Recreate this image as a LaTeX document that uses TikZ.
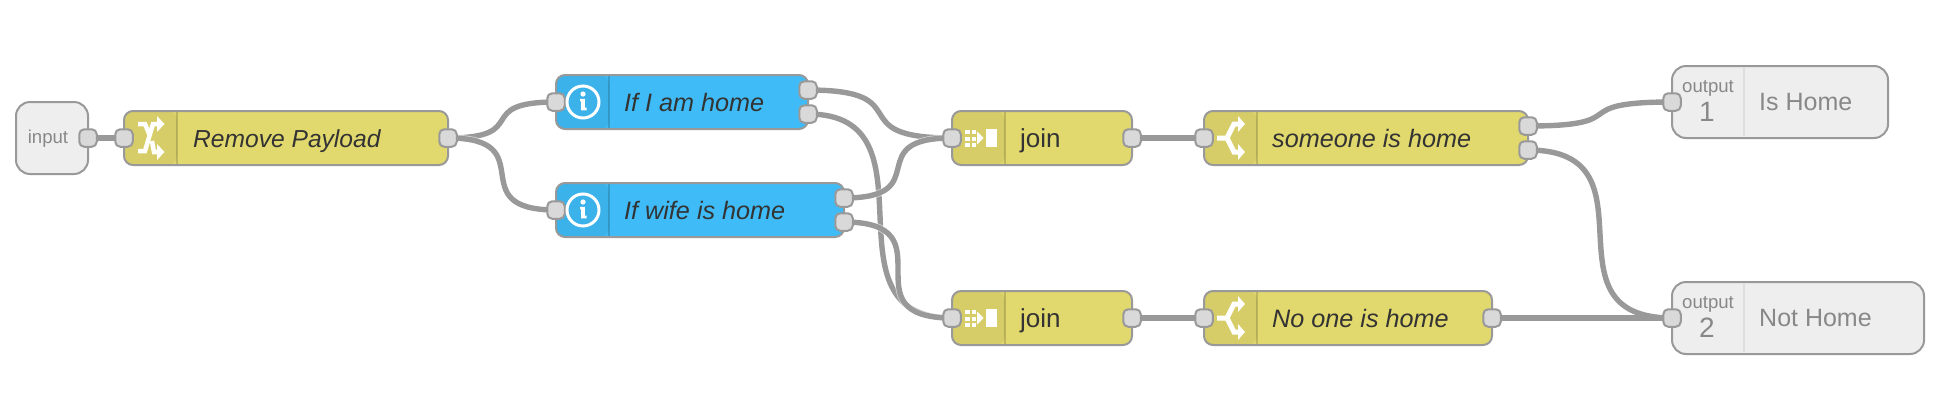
\documentclass[tikz,border=0pt]{standalone}
\usepackage{fontspec}
\setmainfont{Liberation Sans}
\definecolor{wirec}{HTML}{999999}
\definecolor{yellowc}{HTML}{E2D96E}
\definecolor{bluec}{HTML}{3FBCF7}
\definecolor{portc}{HTML}{D9D9D9}
\definecolor{ioc}{HTML}{EEEEEE}
\definecolor{greytext}{HTML}{888888}
\definecolor{inkc}{HTML}{333333}
\pgfdeclarelayer{wirelayer}
\pgfsetlayers{wirelayer,main}
\tikzset{
  flowbody/.style={draw=wirec,line width=2pt,rounded corners=9pt,minimum height=54pt,inner sep=0pt,
    path picture={
      \fill[black,opacity=.05] (path picture bounding box.south west) rectangle ([xshift=53pt]path picture bounding box.north west);
      \draw[black,opacity=.16,line width=1.5pt] ([xshift=53pt]path picture bounding box.south west) -- ([xshift=53pt]path picture bounding box.north west);
    }},
  yellowbody/.style={flowbody,fill=yellowc},
  bluebody/.style={flowbody,fill=bluec},
  iobody/.style={draw=wirec,line width=2pt,rounded corners=14pt,fill=ioc,inner sep=0pt,minimum height=72pt},
  port/.style={draw=wirec,line width=2pt,fill=portc,rounded corners=5pt,minimum size=17.5pt,inner sep=0pt},
  wire/.style={draw=wirec,line width=5.4pt,
     preaction={draw=white,opacity=.55,line width=7pt}},
  nodelabel/.style={anchor=base west,inner sep=0pt,text=inkc,font=\fontsize{25.2}{30}\selectfont\itshape},
  plainlabel/.style={anchor=base west,inner sep=0pt,text=inkc,font=\fontsize{26}{30}\selectfont},
  iolabel/.style={anchor=base west,inner sep=0pt,text=greytext,font=\fontsize{25}{30}\selectfont},
  smalllabel/.style={anchor=base,inner sep=0pt,text=greytext,font=\fontsize{18.6}{22}\selectfont},
  numlabel/.style={anchor=base,inner sep=0pt,text=greytext,font=\fontsize{28}{32}\selectfont},
  iconline/.style={draw=white,line width=5pt,line join=miter},
  iconfill/.style={fill=white},
}
\newcommand{\switchicon}[1]{%
  \begin{scope}[shift={(0,#1)}]
    \draw[iconline] (1217,0) -- (1227,0) -- (1234,-14) -- (1240,-14);
    \draw[iconline] (1227,0) -- (1234,14) -- (1240,14);
    \fill[iconfill] (1238,-22) -- (1245,-14) -- (1238,-6) -- cycle;
    \fill[iconfill] (1238,6) -- (1245,14) -- (1238,22) -- cycle;
  \end{scope}}
\newcommand{\joinicon}[1]{%
  \begin{scope}[shift={(0,#1)}]
    \foreach \dx in {965,971.5}\foreach \dy in {-8.5,-1.5,5}
      \fill[iconfill] (\dx,\dy) rectangle +(4.6,4.2);
    \fill[iconfill] (977,-6.5) -- (983.5,0) -- (977,6.5) -- cycle;
    \fill[iconfill] (986,-9) rectangle (997,9);
  \end{scope}}
\newcommand{\infoicon}[1]{%
  \begin{scope}[shift={(583,#1)}]
    \draw[white,line width=3pt] (0,0) circle (16);
    \fill[white] (0,-8) circle (2.6);
    \fill[white] (-3,-3.2) -- (1.8,-3.2) -- (1.8,5.6) -- (3.6,5.6) -- (3.6,8.4) -- (-2,8.4) -- (-2,-.6) -- (-3,-.6) -- cycle;
  \end{scope}}
\begin{document}
\begin{tikzpicture}[x=1pt,y=-1pt]
\useasboundingbox (0,0) rectangle (1948,410);

% bodies
\node[iobody,minimum width=72pt] (inbody) at (52,138) {};
\node[yellowbody,minimum width=324pt] (rp) at (286,138) {};
\node[bluebody,minimum width=252pt] (iam) at (682,102) {};
\node[bluebody,minimum width=288pt] (wife) at (700,210) {};
\node[yellowbody,minimum width=180pt] (joina) at (1042,138) {};
\node[yellowbody,minimum width=180pt] (joinb) at (1042,318) {};
\node[yellowbody,minimum width=324pt] (some) at (1366,138) {};
\node[yellowbody,minimum width=288pt] (none) at (1348,318) {};
\node[iobody,minimum width=216pt] (outa) at (1780,102) {};
\node[iobody,minimum width=252pt] (outb) at (1798,318) {};

% output dividers
\coordinate (oat) at (1744,68); \coordinate (oab) at (1744,136);
\coordinate (obt) at (1744,284); \coordinate (obb) at (1744,352);
\draw[black!13,line width=1.5pt] (oat) -- (oab);
\draw[black!13,line width=1.5pt] (obt) -- (obb);

% ports
\node[port] (pin) at (88,138) {};
\node[port] (rpi) at (124,138) {};
\node[port] (rpo) at (448,138) {};
\node[port] (iami) at (556,102) {};
\node[port] (iamoa) at (808,90) {};
\node[port] (iamob) at (808,114) {};
\node[port] (wifei) at (556,210) {};
\node[port] (wifeoa) at (844,198) {};
\node[port] (wifeob) at (844,222) {};
\node[port] (jai) at (952,138) {};
\node[port] (jao) at (1132,138) {};
\node[port] (jbi) at (952,318) {};
\node[port] (jbo) at (1132,318) {};
\node[port] (somei) at (1204,138) {};
\node[port] (someoa) at (1528,126) {};
\node[port] (someob) at (1528,150) {};
\node[port] (nonei) at (1204,318) {};
\node[port] (noneo) at (1492,318) {};
\node[port] (oai) at (1672,102) {};
\node[port] (obi) at (1672,318) {};

% wires
\begin{pgfonlayer}{wirelayer}
\fill[white] (0,0) rectangle (1948,410);
\draw[wire] (pin.center) -- (rpi.center);
\draw[wire] (rpo.center) .. controls +(85,0) and +(-85,0) .. (iami.center);
\draw[wire] (rpo.center) .. controls +(97,0) and +(-97,0) .. (wifei.center);
\draw[wire] (iamob.center) .. controls +(135,0) and +(-135,0) .. (jbi.center);
\draw[wire] (wifeob.center) .. controls +(108,0) and +(-108,0) .. (jbi.center);
\draw[wire] (iamoa.center) .. controls +(114,0) and +(-114,0) .. (jai.center);
\draw[wire] (wifeoa.center) .. controls +(93,0) and +(-93,0) .. (jai.center);
\draw[wire] (jao.center) -- (somei.center);
\draw[wire] (jbo.center) -- (nonei.center);
\draw[wire] (someoa.center) .. controls +(110,0) and +(-110,0) .. (oai.center);
\draw[wire] (someob.center) .. controls +(135,0) and +(-135,0) .. (obi.center);
\draw[wire] (noneo.center) -- (obi.center);
\end{pgfonlayer}

% labels
\node[smalllabel] (tin) at (48,143) {input};
\node[nodelabel,font=\fontsize{24.6}{30}\selectfont\itshape] (trp) at (193,147) {Remove Payload};
\node[nodelabel] (tiam) at (624,111) {If I am home};
\node[nodelabel] (twife) at (624,219) {If wife is home};
\node[plainlabel] (tja) at (1020,147) {join};
\node[plainlabel] (tjb) at (1020,327) {join};
\node[nodelabel] (tsome) at (1272,147) {someone is home};
\node[nodelabel] (tnone) at (1272,327) {No one is home};
\node[iolabel] (toa) at (1759,110) {Is Home};
\node[iolabel] (tob) at (1759,326) {Not Home};
\node[smalllabel] (oa1) at (1708,92) {output};
\node[numlabel] (oa2) at (1707,121) {1};
\node[smalllabel] (ob1) at (1708,308) {output};
\node[numlabel] (ob2) at (1707,337) {2};

% icons
\draw[iconline,line width=4.5pt] (138,151) -- (145,151) -- (153,124) -- (160,124);
\draw[iconline,line width=4.5pt] (138,124) -- (145,124) -- (150,136);
\draw[iconline,line width=4.5pt] (152,141) -- (154,152) -- (160,152);
\fill[iconfill] (157,116) -- (164.5,124) -- (157,132) -- cycle;
\fill[iconfill] (157,144) -- (164.5,152) -- (157,160) -- cycle;
\infoicon{102}
\infoicon{210}
\joinicon{138}
\joinicon{318}
\switchicon{138}
\switchicon{318}
\end{tikzpicture}
\end{document}
